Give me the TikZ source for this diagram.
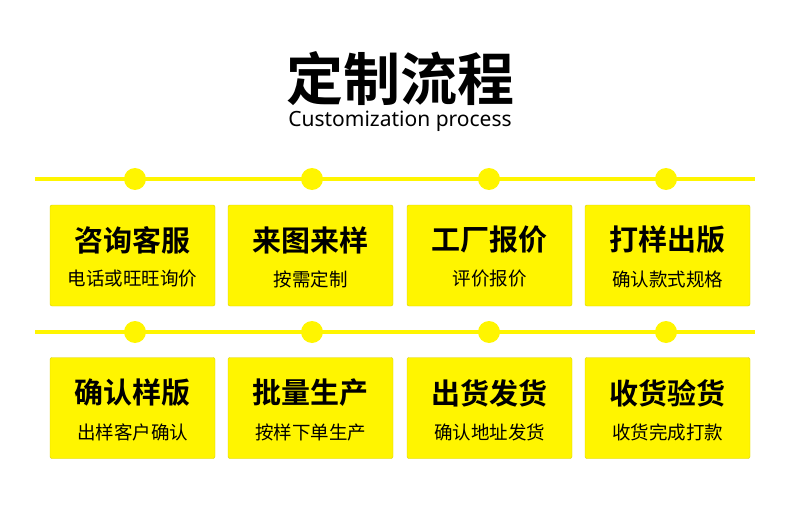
\documentclass[tikz,border=0pt]{standalone}
\usepackage{fontspec}
\setmainfont{Noto Sans}
\newfontfamily\cjk{Noto Sans CJK SC}
\newfontfamily\cjkb{Noto Sans CJK SC Bold}
\usetikzlibrary{positioning}
\definecolor{stepyellow}{HTML}{FFF500}
\tikzset{
	stepbox/.style={draw=stepyellow!85!black, fill=stepyellow, rounded corners=2pt, minimum width=165pt, minimum height=101pt, inner sep=0pt},
	dot/.style={circle, fill=stepyellow, inner sep=0pt, minimum size=22pt},
	bar/.style={stepyellow, line width=4pt},
	head/.style={font=\cjkb\fontsize{29}{32}\selectfont},
	sub/.style={font=\cjk\fontsize{18.5}{21}\selectfont}
}
\begin{document}
\begin{tikzpicture}[x=1pt,y=-1pt]
		\useasboundingbox (0,0) rectangle (790,508);
		\node (title) at (400,79) {\cjkb\fontsize{57}{60}\selectfont 定制流程};
		\node (eng) at (400,121) {\fontsize{21}{24}\selectfont Customization process};
		% first row
		\coordinate (l1a) at (35,179);
		\coordinate (l1b) at (755,179);
		\draw[bar] (l1a) -- (l1b);
		\node (d1) [dot] at (135,179) {};
		\node (d2) [dot] at (312,179) {};
		\node (d3) [dot] at (489,179) {};
		\node (d4) [dot] at (666,179) {};
		\node (b1) [stepbox] at (132.5,255.5) {};
		\node (b2) [stepbox] at (310.5,255.5) {};
		\node (b3) [stepbox] at (489.5,255.5) {};
		\node (b4) [stepbox] at (667.5,255.5) {};
		\node (h1) [head] at (132.5,240) {咨询客服};
		\node (s1) [sub] at (132.5,279) {电话或旺旺询价};
		\node (h2) [head] at (310.5,240) {来图来样};
		\node (s2) [sub] at (310.5,279) {按需定制};
		\node (h3) [head] at (489.5,240) {工厂报价};
		\node (s3) [sub] at (489.5,279) {评价报价};
		\node (h4) [head] at (667.5,240) {打样出版};
		\node (s4) [sub] at (667.5,279) {确认款式规格};
		% second row
		\coordinate (l2a) at (35,332);
		\coordinate (l2b) at (755,332);
		\draw[bar] (l2a) -- (l2b);
		\node (d5) [dot] at (135,332) {};
		\node (d6) [dot] at (312,332) {};
		\node (d7) [dot] at (489,332) {};
		\node (d8) [dot] at (666,332) {};
		\node (b5) [stepbox] at (132.5,408) {};
		\node (b6) [stepbox] at (310.5,408) {};
		\node (b7) [stepbox] at (489.5,408) {};
		\node (b8) [stepbox] at (667.5,408) {};
		\node (h5) [head] at (132.5,393) {确认样版};
		\node (s5) [sub] at (132.5,432) {出样客户确认};
		\node (h6) [head] at (310.5,393) {批量生产};
		\node (s6) [sub] at (310.5,432) {按样下单生产};
		\node (h7) [head] at (489.5,393) {出货发货};
		\node (s7) [sub] at (489.5,432) {确认地址发货};
		\node (h8) [head] at (667.5,393) {收货验货};
		\node (s8) [sub] at (667.5,432) {收货完成打款};
\end{tikzpicture}
\end{document}
